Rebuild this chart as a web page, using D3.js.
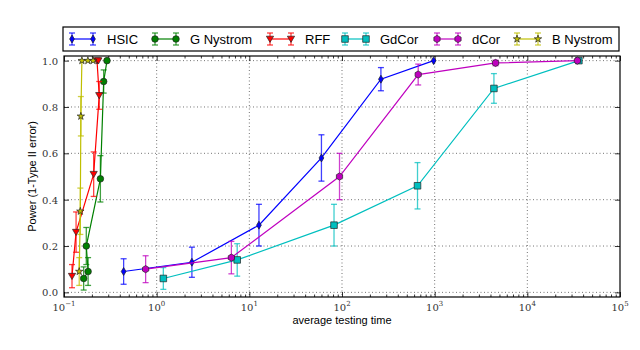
<!DOCTYPE html>
<html>
<head>
<meta charset="utf-8">
<script src="https://cdn.jsdelivr.net/npm/d3@7"></script>
<style>
  body { margin: 0; background: #fff; }
  svg { display: block; }
</style>
</head>
<body>
<svg width="640" height="350"></svg>
<script>
// values (time in seconds, power, +/- error)
let seriesNames = ["HSIC", "G Nystrom", "RFF", "GdCor", "dCor", "B Nystrom"];
let seriesColors = ["#0000ff", "#008000", "#ff0000", "#00bfbf", "#bf00bf", "#bfbf00"];
let seriesMarkers = ["thinDiamond", "circle", "triangleDown", "square", "hexagon", "star"];

let hsicTime = [0.44, 2.4, 12.7, 60, 263, 975];
let hsicPower = [0.09, 0.13, 0.29, 0.58, 0.92, 1.0];
let hsicErr = [0.055, 0.065, 0.09, 0.1, 0.05, 0.0];

let gNysTime = [0.163, 0.182, 0.174, 0.247, 0.268, 0.291];
let gNysPower = [0.06, 0.09, 0.2, 0.49, 0.91, 1.0];
let gNysErr = [0.05, 0.06, 0.08, 0.1, 0.05, 0.0];

let rffTime = [0.122, 0.135, 0.209, 0.24, 0.227, 0.235];
let rffPower = [0.07, 0.26, 0.51, 0.85, 1.0, 1.0];
let rffErr = [0.05, 0.087, 0.096, 0.06, 0.0, 0.0];

let gdcorTime = [1.18, 7.4, 82, 653, 4360, 36000];
let gdcorPower = [0.06, 0.14, 0.29, 0.46, 0.88, 1.0];
let gdcorErr = [0.047, 0.07, 0.09, 0.1, 0.064, 0.0];

let dcorTime = [0.76, 6.4, 94, 664, 4540, 34700];
let dcorPower = [0.1, 0.15, 0.5, 0.94, 0.99, 1.0];
let dcorErr = [0.058, 0.07, 0.1, 0.045, 0.012, 0.0];

let bNysTime = [0.146, 0.15, 0.152, 0.156, 0.181, 0.206];
let bNysPower = [0.09, 0.35, 0.76, 1.0, 1.0, 1.0];
let bNysErr = [0.06, 0.1, 0.085, 0.0, 0.0, 0.0];

let yTicks = [0, 0.2, 0.4, 0.6, 0.8, 1.0];
let xTickExps = [-1, 0, 1, 2, 3, 4, 5];

let allTimes = [hsicTime, gNysTime, rffTime, gdcorTime, dcorTime, bNysTime];
let allPowers = [hsicPower, gNysPower, rffPower, gdcorPower, dcorPower, bNysPower];
let allErrs = [hsicErr, gNysErr, rffErr, gdcorErr, dcorErr, bNysErr];

// datu rindas
let series = seriesNames.map((name, i) => ({
  name: name,
  color: seriesColors[i],
  marker: seriesMarkers[i],
  points: allTimes[i].map((t, j) => ({ t: t, p: allPowers[i][j], e: allErrs[i][j] })),
}));

let plotLeft = 64, plotRight = 620, plotTop = 56, plotBottom = 297;
let legendX = [72, 155, 270, 345, 437, 517]; // leģendas ierakstu sākumi

let x = d3.scaleLog().domain([0.1, 1e5]).range([plotLeft, plotRight]);
let y = d3.scaleLinear().domain([-0.02, 1.02]).range([plotBottom, plotTop]);

let svg = d3.select("svg");

// marker shapes
function markerPath(kind) {
  if (kind === "thinDiamond") return "M0,-4L2.4,0L0,4L-2.4,0Z";
  if (kind === "circle") return d3.symbol(d3.symbolCircle, 34)();
  if (kind === "triangleDown") return "M-3.6,-2.8L3.6,-2.8L0,3.4Z";
  if (kind === "square") return "M-3.3,-3.3H3.3V3.3H-3.3Z";
  if (kind === "hexagon") {
    let pts = d3.range(6).map((k) => {
      let a = (Math.PI / 3) * k;
      return [3.6 * Math.sin(a), -3.6 * Math.cos(a)];
    });
    return "M" + pts.join("L") + "Z";
  }
  if (kind === "star") return d3.symbol(d3.symbolStar, 17)();
}

// grid
let grid = svg.append("g").attr("stroke", "#000").attr("stroke-opacity", 0.55)
  .attr("stroke-dasharray", "1,2.5").attr("stroke-width", 1);
grid.selectAll(".gx").data(xTickExps.slice(1, -1)).enter().append("line")
  .attr("x1", (d) => x(Math.pow(10, d))).attr("x2", (d) => x(Math.pow(10, d)))
  .attr("y1", plotTop).attr("y2", plotBottom);
grid.selectAll(".gy").data(yTicks).enter().append("line")
  .attr("x1", plotLeft).attr("x2", plotRight)
  .attr("y1", (d) => y(d)).attr("y2", (d) => y(d));

// axes with inward ticks
let majorX = xTickExps.map((d) => Math.pow(10, d));
let minorX = [];
xTickExps.slice(0, -1).forEach((e) => {
  for (let k = 2; k <= 9; k++) minorX.push(k * Math.pow(10, e));
});

function styleAxis(g) {
  g.select(".domain").remove();
  g.selectAll("line").attr("stroke", "#000").attr("stroke-width", 0.8);
  g.selectAll("text").remove();
}

svg.append("g").attr("transform", `translate(0,${plotBottom})`)
  .call(d3.axisBottom(x).tickValues(majorX).tickSize(-5)).call(styleAxis);
svg.append("g").attr("transform", `translate(0,${plotBottom})`)
  .call(d3.axisBottom(x).tickValues(minorX).tickSize(-2.5)).call(styleAxis);
svg.append("g").attr("transform", `translate(0,${plotTop})`)
  .call(d3.axisTop(x).tickValues(majorX).tickSize(-5)).call(styleAxis);
svg.append("g").attr("transform", `translate(0,${plotTop})`)
  .call(d3.axisTop(x).tickValues(minorX).tickSize(-2.5)).call(styleAxis);
svg.append("g").attr("transform", `translate(${plotLeft},0)`)
  .call(d3.axisLeft(y).tickValues(yTicks).tickSize(-5)).call(styleAxis);
svg.append("g").attr("transform", `translate(${plotRight},0)`)
  .call(d3.axisRight(y).tickValues(yTicks).tickSize(-5)).call(styleAxis);

// tick labels
let tickFont = "'DejaVu Serif', 'Liberation Serif', serif";
svg.append("g").selectAll("text").data(yTicks).enter().append("text")
  .attr("x", plotLeft - 6).attr("y", (d) => y(d) + 4)
  .attr("text-anchor", "end").attr("font-family", tickFont).attr("font-size", 10)
  .attr("fill", "#333").text((d) => d.toFixed(1));

let xl = svg.append("g").selectAll("text").data(xTickExps).enter().append("text")
  .attr("x", (d) => x(Math.pow(10, d))).attr("y", plotBottom + 14)
  .attr("text-anchor", "middle").attr("font-family", tickFont).attr("font-size", 10)
  .attr("fill", "#333");
xl.append("tspan").text("10");
xl.append("tspan").attr("dy", -5).attr("font-size", 7)
  .text((d) => (d < 0 ? "\u2212" + -d : d));

// axis titles
svg.append("text").attr("x", (plotLeft + plotRight) / 2).attr("y", plotBottom + 27)
  .attr("text-anchor", "middle").attr("font-family", "'Liberation Sans', Arial, sans-serif")
  .attr("font-size", 11).text("average testing time");
svg.append("text").attr("transform", `translate(36,${(plotTop + plotBottom) / 2}) rotate(-90)`)
  .attr("text-anchor", "middle").attr("font-family", "'Liberation Sans', Arial, sans-serif")
  .attr("font-size", 11).text("Power (1-Type II error)");

// series
let line = d3.line().x((d) => x(d.t)).y((d) => y(d.p));
let plot = svg.append("g");

series.forEach((s) => {
  let g = plot.append("g");
  g.append("path").datum(s.points).attr("d", line)
    .attr("fill", "none").attr("stroke", s.color).attr("stroke-width", 1.2);

  let eb = g.selectAll(".eb").data(s.points.filter((d) => d.e > 0)).enter().append("g")
    .attr("stroke", s.color).attr("stroke-opacity", 0.75).attr("stroke-width", 1.3);
  eb.append("line").attr("x1", (d) => x(d.t)).attr("x2", (d) => x(d.t))
    .attr("y1", (d) => y(d.p - d.e)).attr("y2", (d) => y(d.p + d.e));
  eb.append("line").attr("x1", (d) => x(d.t) - 3).attr("x2", (d) => x(d.t) + 3)
    .attr("y1", (d) => y(d.p - d.e)).attr("y2", (d) => y(d.p - d.e));
  eb.append("line").attr("x1", (d) => x(d.t) - 3).attr("x2", (d) => x(d.t) + 3)
    .attr("y1", (d) => y(d.p + d.e)).attr("y2", (d) => y(d.p + d.e));

  g.selectAll(".mk").data(s.points).enter().append("path")
    .attr("d", markerPath(s.marker))
    .attr("transform", (d) => `translate(${x(d.t)},${y(d.p)})`)
    .attr("fill", s.color).attr("stroke", "#222").attr("stroke-width", 0.7);
});

// frame
svg.append("rect").attr("x", plotLeft).attr("y", plotTop)
  .attr("width", plotRight - plotLeft).attr("height", plotBottom - plotTop)
  .attr("fill", "none").attr("stroke", "#000").attr("stroke-width", 1.2);

// legend
let legend = svg.append("g");
legend.append("rect").attr("x", 63).attr("y", 27).attr("width", 556).attr("height", 24)
  .attr("fill", "#fff").attr("stroke", "#000").attr("stroke-width", 1.2);

let ly = 39;
series.forEach((s, i) => {
  let g = legend.append("g").attr("transform", `translate(${legendX[i]},${ly})`);
  g.append("line").attr("x1", 0).attr("x2", 21).attr("stroke", s.color).attr("stroke-width", 1.2);
  [0, 21].forEach((px) => {
    let b = g.append("g").attr("stroke", s.color).attr("stroke-opacity", 0.75).attr("stroke-width", 1.3);
    b.append("line").attr("x1", px).attr("x2", px).attr("y1", -6).attr("y2", 6);
    b.append("line").attr("x1", px - 3).attr("x2", px + 3).attr("y1", -6).attr("y2", -6);
    b.append("line").attr("x1", px - 3).attr("x2", px + 3).attr("y1", 6).attr("y2", 6);
    g.append("path").attr("d", markerPath(s.marker)).attr("transform", `translate(${px},0)`)
      .attr("fill", s.color).attr("stroke", "#222").attr("stroke-width", 0.7);
  });
  g.append("text").attr("x", 35).attr("y", 5)
    .attr("font-family", "'Liberation Sans', Arial, sans-serif").attr("font-size", 13)
    .text(s.name);
});
</script>
</body>
</html>
